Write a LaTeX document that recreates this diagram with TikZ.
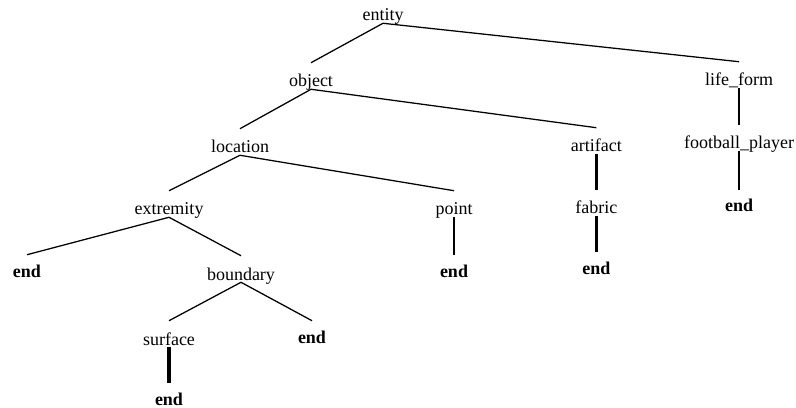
\documentclass[tikz,border=0pt]{standalone}
\usepackage{fontspec}
\setmainfont{Liberation Serif}
\begin{document}
\begin{tikzpicture}[
treenode/.style={anchor=base, inner sep=0pt, text height=0.6cm, text depth=0.05cm, font=\fontsize{12.8}{15}\selectfont},
endnode/.style={treenode, text height=0.55cm, font=\fontsize{12.8}{15}\selectfont\bfseries},
branch/.style={line width=0.9pt},
stem/.style={line width=1.4pt},
thickstem/.style={line width=2.2pt},
]
    \useasboundingbox (0,0) rectangle (19.9,-10.2);
    \node[treenode](entity) at (9.575,-0.525) {entity} ;
    \node[treenode](object) at (7.775,-2.175) {object} ;
    \node[treenode](lifeform) at (18.475,-2.15) {life\_form} ;
    \node[treenode](location) at (6.0,-3.825) {location} ;
    \node[treenode](artifact) at (14.91,-3.8) {artifact} ;
    \node[treenode](player) at (18.475,-3.725) {football\_player} ;
    \node[treenode](extremity) at (4.225,-5.375) {extremity} ;
    \node[treenode](point) at (11.35,-5.375) {point} ;
    \node[treenode](fabric) at (14.91,-5.35) {fabric} ;
    \node[endnode](endplayer) at (18.475,-5.3) {end} ;
    \node[endnode](endextremity) at (0.675,-6.925) {end} ;
    \node[treenode](boundary) at (6.025,-7.0) {boundary} ;
    \node[endnode](endpoint) at (11.35,-6.925) {end} ;
    \node[endnode](endfabric) at (14.91,-6.85) {end} ;
    \node[treenode](surface) at (4.225,-8.625) {surface} ;
    \node[endnode](endboundary) at (7.8,-8.575) {end} ;
    \node[endnode](endsurface) at (4.225,-10.125) {end} ;
    % branches
    \draw[branch] (entity.south) -- (object.north);
    \draw[branch] (entity.south) -- (lifeform.north);
    \draw[branch] (object.south) -- (location.north);
    \draw[branch] (object.south) -- (artifact.north);
    \draw[branch] (location.south) -- (extremity.north);
    \draw[branch] (location.south) -- (point.north);
    \draw[branch] (extremity.south) -- (endextremity.north);
    \draw[branch] (extremity.south) -- (boundary.north);
    \draw[branch] (boundary.south) -- (surface.north);
    \draw[branch] (boundary.south) -- (endboundary.north);
    % single children
    \draw[stem] (lifeform.south) -- (player.north);
    \draw[stem] (player.south) -- (endplayer.north);
    \draw[stem] (point.south) -- (endpoint.north);
    \draw[thickstem] (artifact.south) -- (fabric.north);
    \draw[thickstem] (fabric.south) -- (endfabric.north);
    \draw[thickstem] (surface.south) -- (endsurface.north);
\end{tikzpicture}
\end{document}
